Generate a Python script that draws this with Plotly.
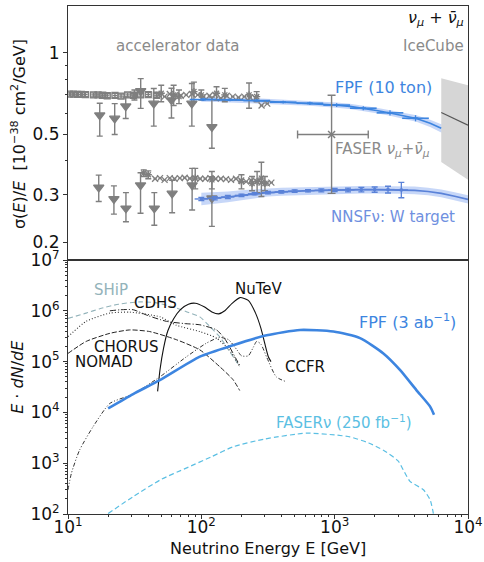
import numpy as np
import plotly.graph_objects as go

# ---------------- data: top panel (sigma/E) ----------------
# accelerator data, neutrino row
sq_E = [10.3, 11.0, 11.8, 12.6, 13.5, 15.5, 16.8, 18.2, 19.7, 22.5, 25.0, 28.0, 31.0, 35.0, 40.0, 46.0]
sq_s = [0.705, 0.705, 0.703, 0.703, 0.702, 0.700, 0.700, 0.698, 0.695, 0.697, 0.693, 0.700, 0.698, 0.700, 0.702, 0.698]
sq_err = [0.012] * 16

tri_up_E = [17.3, 22.4, 27.1, 35.1, 44.0, 59.7, 84.9, 120.0]
tri_up_s = [0.589, 0.573, 0.636, 0.724, 0.651, 0.670, 0.651, 0.533]
tri_up_ep = [0.063, 0.077, 0.052, 0.080, 0.088, 0.071, 0.120, 0.155]
tri_up_em = [0.096, 0.073, 0.063, 0.100, 0.114, 0.095, 0.114, 0.088]

x_up_E = [48, 53, 58, 64, 70, 77, 85, 94, 104, 115, 127, 140, 155, 172, 190, 210, 232, 256, 283, 312]
x_up_s = [0.700, 0.690, 0.705, 0.700, 0.695, 0.700, 0.705, 0.700, 0.690, 0.695, 0.700, 0.680, 0.695, 0.690, 0.685, 0.690, 0.685, 0.680, 0.640, 0.650]

st_up_E = [31.5, 50, 62, 68, 88, 100, 130, 150, 228, 260]
st_up_s = [0.700, 0.710, 0.700, 0.690, 0.720, 0.700, 0.710, 0.700, 0.700, 0.690]
st_up_err = [0.030, 0.050, 0.060, 0.040, 0.060, 0.030, 0.040, 0.040, 0.075, 0.030]

# accelerator data, antineutrino row
tri_lo_E = [17.0, 22.1, 27.2, 35.0, 44.4, 60.4, 85.3, 120.0]
tri_lo_s = [0.319, 0.289, 0.267, 0.325, 0.267, 0.303, 0.325, 0.291]
tri_lo_ep = [0.035, 0.034, 0.038, 0.036, 0.038, 0.036, 0.050, 0.058]
tri_lo_em = [0.036, 0.035, 0.029, 0.069, 0.036, 0.046, 0.062, 0.062]

x_lo_E = [45, 49, 53, 58, 63, 69, 75, 82, 90, 98, 107, 117, 128, 140, 153, 167, 182, 199, 217, 237, 259, 283, 310, 335]
x_lo_s = [0.343, 0.345, 0.340, 0.345, 0.343, 0.345, 0.346, 0.344, 0.345, 0.343, 0.343, 0.345, 0.343, 0.343, 0.342, 0.340, 0.343, 0.338, 0.335, 0.338, 0.335, 0.332, 0.330, 0.332]

st_lo_E = [37, 40, 90, 120, 200, 240, 262, 282, 300]
st_lo_s = [0.360, 0.355, 0.345, 0.340, 0.335, 0.330, 0.335, 0.345, 0.330]
st_lo_err = [0.010, 0.012, 0.030, 0.025, 0.020, 0.020, 0.030, 0.050, 0.020]

# FASER measurement
faser_E = [948]
faser_s = [0.50]
faser_Elo = [527]
faser_Ehi = [1786]
faser_ep = [0.198]
faser_em = [0.197]

# FPF (10 ton) projection
fpf_line_E = [100, 130, 165, 210, 260, 330, 410, 520, 650, 820, 1030, 1300, 1640, 2060, 2600, 3270, 4100, 5200, 6300]
fpf_line_s = [0.674, 0.673, 0.672, 0.670, 0.667, 0.662, 0.658, 0.655, 0.652, 0.648, 0.642, 0.635, 0.625, 0.613, 0.600, 0.588, 0.573, 0.550, 0.527]
fpf_band_hi = [0.688, 0.687, 0.686, 0.684, 0.681, 0.676, 0.672, 0.669, 0.666, 0.662, 0.656, 0.649, 0.639, 0.627, 0.614, 0.603, 0.589, 0.567, 0.545]
fpf_band_lo = [0.660, 0.659, 0.658, 0.656, 0.653, 0.648, 0.644, 0.641, 0.638, 0.634, 0.628, 0.621, 0.611, 0.599, 0.586, 0.573, 0.557, 0.533, 0.509]
fpf_pt_E = [103, 164, 260, 411, 652, 1035, 1640, 2600, 4040]
fpf_pt_s = [0.673, 0.671, 0.667, 0.658, 0.652, 0.642, 0.625, 0.601, 0.574]
fpf_pt_err = [0.008, 0.008, 0.008, 0.008, 0.009, 0.010, 0.011, 0.013, 0.015]

# NNSFnu W target
nn_line_E = [100, 126, 158, 200, 251, 316, 398, 501, 631, 794, 1000, 1259, 1585, 1995, 2512, 3162, 3981, 5012, 6310, 7943, 10000]
nn_line_s = [0.289, 0.291, 0.294, 0.298, 0.302, 0.305, 0.307, 0.309, 0.310, 0.311, 0.312, 0.312, 0.313, 0.313, 0.313, 0.312, 0.311, 0.308, 0.303, 0.296, 0.288]
nn_band_hi = [0.305, 0.306, 0.308, 0.311, 0.314, 0.316, 0.318, 0.319, 0.320, 0.321, 0.322, 0.322, 0.323, 0.323, 0.323, 0.322, 0.321, 0.318, 0.313, 0.306, 0.298]
nn_band_lo = [0.274, 0.277, 0.281, 0.286, 0.291, 0.295, 0.297, 0.299, 0.300, 0.301, 0.302, 0.302, 0.303, 0.303, 0.303, 0.302, 0.301, 0.298, 0.293, 0.286, 0.278]
nn_pt_E = [100, 126, 158, 200, 251, 316, 398, 501, 631, 794, 1000, 1259, 1585, 1995, 2512, 3162]
nn_pt_s = [0.289, 0.291, 0.294, 0.298, 0.302, 0.305, 0.307, 0.309, 0.310, 0.311, 0.312, 0.312, 0.313, 0.313, 0.313, 0.312]
nn_pt_ep = [0.004, 0.004, 0.004, 0.003, 0.003, 0.003, 0.003, 0.003, 0.003, 0.004, 0.004, 0.005, 0.006, 0.007, 0.009, 0.021]
nn_pt_em = [0.004, 0.004, 0.004, 0.003, 0.003, 0.003, 0.003, 0.003, 0.003, 0.004, 0.004, 0.005, 0.006, 0.007, 0.009, 0.020]

# IceCube
ic_E = [6300, 10000]
ic_s = [0.603, 0.541]
ic_hi = [0.807, 0.760]
ic_lo = [0.396, 0.340]

# ---------------- data: bottom panel (E dN/dE) ----------------
nutev_E = [47, 49, 52, 56, 62, 70, 80, 90, 105, 120, 135, 150, 170, 195, 225, 255, 280, 300, 318, 333]
nutev_v = [2.6e4, 7e4, 1.8e5, 4e5, 7e5, 1.07e6, 1.35e6, 1.41e6, 1.2e6, 9.5e5, 8.7e5, 1.0e6, 1.4e6, 1.82e6, 1.6e6, 9e5, 4.5e5, 2.2e5, 1.25e5, 1.0e5]

ship_E = [10, 13.7, 17.3, 24, 34.5, 45, 61, 78, 97.5, 115, 137, 160, 194]
ship_v = [7.1e5, 9e5, 1.1e6, 1.35e6, 1.5e6, 1.45e6, 1.2e6, 9.5e5, 7.6e5, 5e5, 3.1e5, 1.7e5, 8e4]

cdhs_E = [20.6, 25, 30.8, 40, 54.8, 75, 97.5, 130, 150, 162, 180, 194]
cdhs_v = [1.0e6, 1.05e6, 1.05e6, 8e5, 6.2e5, 5.6e5, 5.3e5, 4.2e5, 2.8e5, 2e5, 1.2e5, 8.5e4]

chorus_E = [10, 13.7, 20.6, 29.1, 49, 65, 97.5, 130, 162, 194]
chorus_v = [3.1e5, 6.2e5, 9e5, 9.4e5, 7.6e5, 5.2e5, 3.9e5, 2.9e5, 1.7e5, 8e4]

nomad_E = [10, 13.7, 20.6, 29, 41, 65, 97.5, 137, 173, 194]
nomad_v = [1.45e5, 2.5e5, 3.6e5, 4.2e5, 3.9e5, 2.7e5, 1.7e5, 8e4, 4.4e4, 2.7e4]

ccfr_E = [10, 10.6, 12.2, 15.4, 20.6, 30.8, 48.8, 77.5, 109, 137, 160, 185, 200, 225, 245, 260, 280, 310, 365, 435]
ccfr_v = [300, 630, 1800, 5200, 1.5e4, 2.3e4, 5e4, 1.25e5, 2.3e5, 3e5, 2.7e5, 1.7e5, 1.3e5, 1.3e5, 1.9e5, 2.5e5, 2.2e5, 1.2e5, 5e4, 4e4]

fpf3_E = [20, 30.8, 48.8, 97.5, 173, 309, 550, 977, 1550, 2320, 3100, 4100, 5200, 5560]
fpf3_v = [1.2e4, 2.3e4, 4.3e4, 1.25e5, 2.1e5, 3.3e5, 4.2e5, 3.9e5, 2.9e5, 1.45e5, 6.8e4, 2.75e4, 1.3e4, 9e3]

fasernu_E = [20, 30.8, 50, 77, 120, 173, 300, 615, 1000, 1300, 1800, 2320, 3000, 3270, 3670, 4630, 5200, 5500]
fasernu_v = [102, 220, 480, 800, 1350, 2100, 3000, 3900, 3600, 3300, 2500, 1800, 1100, 740, 440, 300, 190, 102]

# tick labels
x_tick_vals = [10, 100, 1000, 10000]
x_tick_text = ['10<sup>1</sup>', '10<sup>2</sup>', '10<sup>3</sup>', '10<sup>4</sup>']
y_tick_vals = [1e2, 1e3, 1e4, 1e5, 1e6, 1e7]
y_tick_text = ['10<sup>2</sup>', '10<sup>3</sup>', '10<sup>4</sup>', '10<sup>5</sup>', '10<sup>6</sup>', '10<sup>7</sup>']
s_tick_vals = [0.2, 0.3, 0.5, 1]
s_tick_text = ['0.2', '0.3', '0.5', '1']

# ---------------- styling ----------------
FONT = 'DejaVu Sans'
GRAY = '#7f7f7f'
BLUE = '#3d85e0'
NNBLUE = '#5a82d8'
BAND = 'rgba(95,140,235,0.35)'
FASERNU = '#5bbfe3'
SHIP = '#93b3ba'

fig = go.Figure()

def top(tr):
    tr.update(xaxis='x2', yaxis='y2')
    fig.add_trace(tr)

# IceCube band
top(go.Scatter(x=ic_E + ic_E[::-1], y=ic_hi + ic_lo[::-1], fill='toself', fillcolor='#d6d6d6',
               line=dict(width=0), mode='lines', hoverinfo='skip'))
top(go.Scatter(x=ic_E, y=ic_s, mode='lines', line=dict(color='#555555', width=1.2)))

# NNSF band & line
top(go.Scatter(x=nn_line_E + nn_line_E[::-1], y=nn_band_hi + nn_band_lo[::-1], fill='toself',
               fillcolor=BAND, line=dict(width=0), mode='lines', hoverinfo='skip'))
top(go.Scatter(x=nn_line_E, y=nn_line_s, mode='lines', line=dict(color=NNBLUE, width=1.6)))

# FPF band & line
top(go.Scatter(x=fpf_line_E + fpf_line_E[::-1], y=fpf_band_hi + fpf_band_lo[::-1], fill='toself',
               fillcolor=BAND, line=dict(width=0), mode='lines', hoverinfo='skip'))
top(go.Scatter(x=fpf_line_E, y=fpf_line_s, mode='lines', line=dict(color=BLUE, width=1.6)))

# accelerator data
def gray_pts(E, s, symbol, size, ep=None, em=None, xfrac=0.0):
    E = np.array(E, dtype=float)
    kw = {}
    if ep is not None:
        kw['error_y'] = dict(type='data', array=ep, arrayminus=em if em is not None else ep,
                             color=GRAY, thickness=1.4, width=3)
    if xfrac:
        kw['error_x'] = dict(type='data', array=E * xfrac, arrayminus=E * xfrac / (1 + xfrac),
                             color=GRAY, thickness=1.2, width=0)
    top(go.Scatter(x=E, y=s, mode='markers',
                   marker=dict(symbol=symbol, size=size, color=GRAY,
                               line=dict(color=GRAY, width=1.3)), **kw))

gray_pts(sq_E, sq_s, 'square-open', 6, sq_err, sq_err, xfrac=0.04)
gray_pts(x_up_E, x_up_s, 'x-thin', 6, xfrac=0.03)
gray_pts(st_up_E, st_up_s, 'asterisk-open', 6, st_up_err, st_up_err, xfrac=0.02)
gray_pts(tri_up_E, tri_up_s, 'triangle-down', 9, tri_up_ep, tri_up_em)
gray_pts(x_lo_E, x_lo_s, 'x-thin', 6, xfrac=0.03)
gray_pts(st_lo_E, st_lo_s, 'asterisk-open', 6, st_lo_err, st_lo_err, xfrac=0.02)
gray_pts(tri_lo_E, tri_lo_s, 'triangle-down', 9, tri_lo_ep, tri_lo_em)

# FPF points
fpfE = np.array(fpf_pt_E, dtype=float)
top(go.Scatter(x=fpfE, y=fpf_pt_s, mode='markers',
               marker=dict(symbol='line-ew', size=4, color=BLUE, line=dict(color=BLUE, width=2)),
               error_y=dict(type='data', array=fpf_pt_err, color=BLUE, thickness=1.3, width=0),
               error_x=dict(type='data', array=fpfE * 0.259, arrayminus=fpfE * 0.206,
                            color=BLUE, thickness=1.6, width=0)))
# NNSF points
nnE = np.array(nn_pt_E, dtype=float)
top(go.Scatter(x=nnE, y=nn_pt_s, mode='markers',
               marker=dict(symbol='square', size=3, color=NNBLUE),
               error_y=dict(type='data', array=nn_pt_ep, arrayminus=nn_pt_em, color=NNBLUE,
                            thickness=1.3, width=3),
               error_x=dict(type='data', array=nnE * 0.122, arrayminus=nnE * 0.109,
                            color=NNBLUE, thickness=1.4, width=0)))

# FASER point
top(go.Scatter(x=faser_E, y=faser_s, mode='markers',
               marker=dict(symbol='x-thin', size=7, color=GRAY, line=dict(color=GRAY, width=1.5)),
               error_y=dict(type='data', array=faser_ep, arrayminus=faser_em, color=GRAY,
                            thickness=1.4, width=4),
               error_x=dict(type='data', array=[faser_Ehi[0] - faser_E[0]],
                            arrayminus=[faser_E[0] - faser_Elo[0]], color=GRAY, thickness=1.4, width=4)))

# ---------------- bottom panel ----------------
def bot(E, v, color, width, dash):
    fig.add_trace(go.Scatter(x=E, y=v, mode='lines', line=dict(color=color, width=width, dash=dash,
                                                               shape='spline', smoothing=0.6),
                             xaxis='x', yaxis='y'))

bot(ship_E, ship_v, SHIP, 1.1, '5px,3px')
bot(chorus_E, chorus_v, '#333333', 1.1, '1px,2px')
bot(nomad_E, nomad_v, '#222222', 1.0, '5px,2px')
bot(cdhs_E, cdhs_v, '#222222', 1.0, '6px,2px,1px,2px')
bot(ccfr_E, ccfr_v, '#333333', 1.0, '4px,2px,1px,2px,1px,2px')
bot(nutev_E, nutev_v, '#111111', 1.1, 'solid')
bot(fasernu_E, fasernu_v, FASERNU, 1.2, '5px,3px')
bot(fpf3_E, fpf3_v, BLUE, 2.6, 'solid')

# ---------------- annotations ----------------
ann = []
def txt(x, y, s, color, size=15, xanchor='left', xref='x2', yref='y2'):
    ann.append(dict(x=x, y=y, xref=xref, yref=yref, text=s, showarrow=False, xanchor=xanchor,
                    yanchor='middle', font=dict(family=FONT, size=size, color=color)))

# top panel (log coordinates)
txt(1.82, 0.025, 'accelerator data', '#8a8a8a', 15, 'center')
txt(3.985, 0.025, 'IceCube', '#8a8a8a', 15, 'right')
txt(3.985, 0.128, '<i>ν<sub>μ</sub></i> + <i>ν̄<sub>μ</sub></i>', '#111111', 16, 'right')
txt(3.366, -0.127, 'FPF (10 ton)', BLUE, 16, 'center')
txt(2.99, -0.355, 'FASER <i>ν<sub>μ</sub></i>+<i>ν̄<sub>μ</sub></i>', '#8a8a8a', 15, 'left')
txt(2.955, -0.606, 'NNSFν: W target', '#6f90e0', 15, 'left')

# bottom panel
txt(1.18, 6.41, 'SHiP', SHIP, 15, 'left', 'x', 'y')
txt(1.48, 6.16, 'CDHS', '#111111', 15, 'left', 'x', 'y')
txt(2.24, 6.42, 'NuTeV', '#111111', 15, 'left', 'x', 'y')
txt(1.18, 5.29, 'CHORUS', '#111111', 15, 'left', 'x', 'y')
txt(1.04, 4.99, 'NOMAD', '#111111', 15, 'left', 'x', 'y')
txt(2.61, 4.89, 'CCFR', '#111111', 15, 'left', 'x', 'y')
txt(3.17, 5.785, 'FPF (3 ab<sup>−1</sup>)', BLUE, 16, 'left', 'x', 'y')
txt(2.545, 3.82, 'FASERν (250 fb<sup>−1</sup>)', FASERNU, 15, 'left', 'x', 'y')

# axis titles
ann.append(dict(x=-0.125, y=0.748, xref='paper', yref='paper', textangle=-90, showarrow=False,
                xanchor='center', yanchor='middle',
                text='σ(<i>E</i>)/<i>E</i>  [10<sup>−38</sup> cm<sup>2</sup>/GeV]',
                font=dict(family=FONT, size=16, color='#111111')))
ann.append(dict(x=-0.125, y=0.27, xref='paper', yref='paper', textangle=-90, showarrow=False,
                xanchor='center', yanchor='middle',
                text='<i>E</i> · <i>dN</i>/<i>dE</i>',
                font=dict(family=FONT, size=16, color='#111111')))
ann.append(dict(x=0.5, y=-0.067, xref='paper', yref='paper', showarrow=False, xanchor='center',
                yanchor='middle',
                text='Neutrino Energy E [GeV]', font=dict(family=FONT, size=16, color='#111111')))

def minor_vals(lo, hi):
    vals = []
    for d in range(lo, hi):
        for m in range(2, 10):
            vals.append(m * 10 ** d)
    return vals

axis_common = dict(showline=True, linecolor='#333333', linewidth=1, mirror=True, showgrid=False,
                   zeroline=False, automargin=False,
                   tickfont=dict(family=FONT, size=17, color='#111111'))

fig.update_layout(
    width=484, height=562, margin=dict(l=68, r=16, t=6, b=48, autoexpand=False),
    paper_bgcolor='white', plot_bgcolor='white', showlegend=False,
    annotations=ann,
    xaxis=dict(type='log', range=[1, 4], domain=[0, 1], anchor='y',
               tickmode='array', tickvals=x_tick_vals, ticktext=x_tick_text,
               ticks='outside', ticklen=4, tickcolor='#333333', ticklabelstandoff=-6,
               minor=dict(tickmode='array', tickvals=minor_vals(1, 4), ticks='outside', ticklen=2,
                          tickcolor='#333333'),
               **axis_common),
    yaxis=dict(type='log', range=[2, 7], domain=[0, 0.5], anchor='x',
               tickmode='array', tickvals=y_tick_vals, ticktext=y_tick_text,
               ticks='outside', ticklen=4, tickcolor='#333333',
               minor=dict(tickmode='array', tickvals=minor_vals(2, 7), ticks='outside', ticklen=2,
                          tickcolor='#333333'),
               **axis_common),
    xaxis2=dict(type='log', range=[1, 4], domain=[0, 1], anchor='y2', showticklabels=False,
                ticks='', **axis_common),
    yaxis2=dict(type='log', range=[-0.7644, 0.1733], domain=[0.5, 1], anchor='x2',
                tickmode='array', tickvals=s_tick_vals, ticktext=s_tick_text,
                ticks='outside', ticklen=4, tickcolor='#333333',
                minor=dict(tickmode='array', tickvals=[0.4, 0.6, 0.7, 0.8, 0.9], ticks='outside',
                           ticklen=2.5, tickcolor='#333333'),
                **axis_common),
)

fig.write_html('out.html')
